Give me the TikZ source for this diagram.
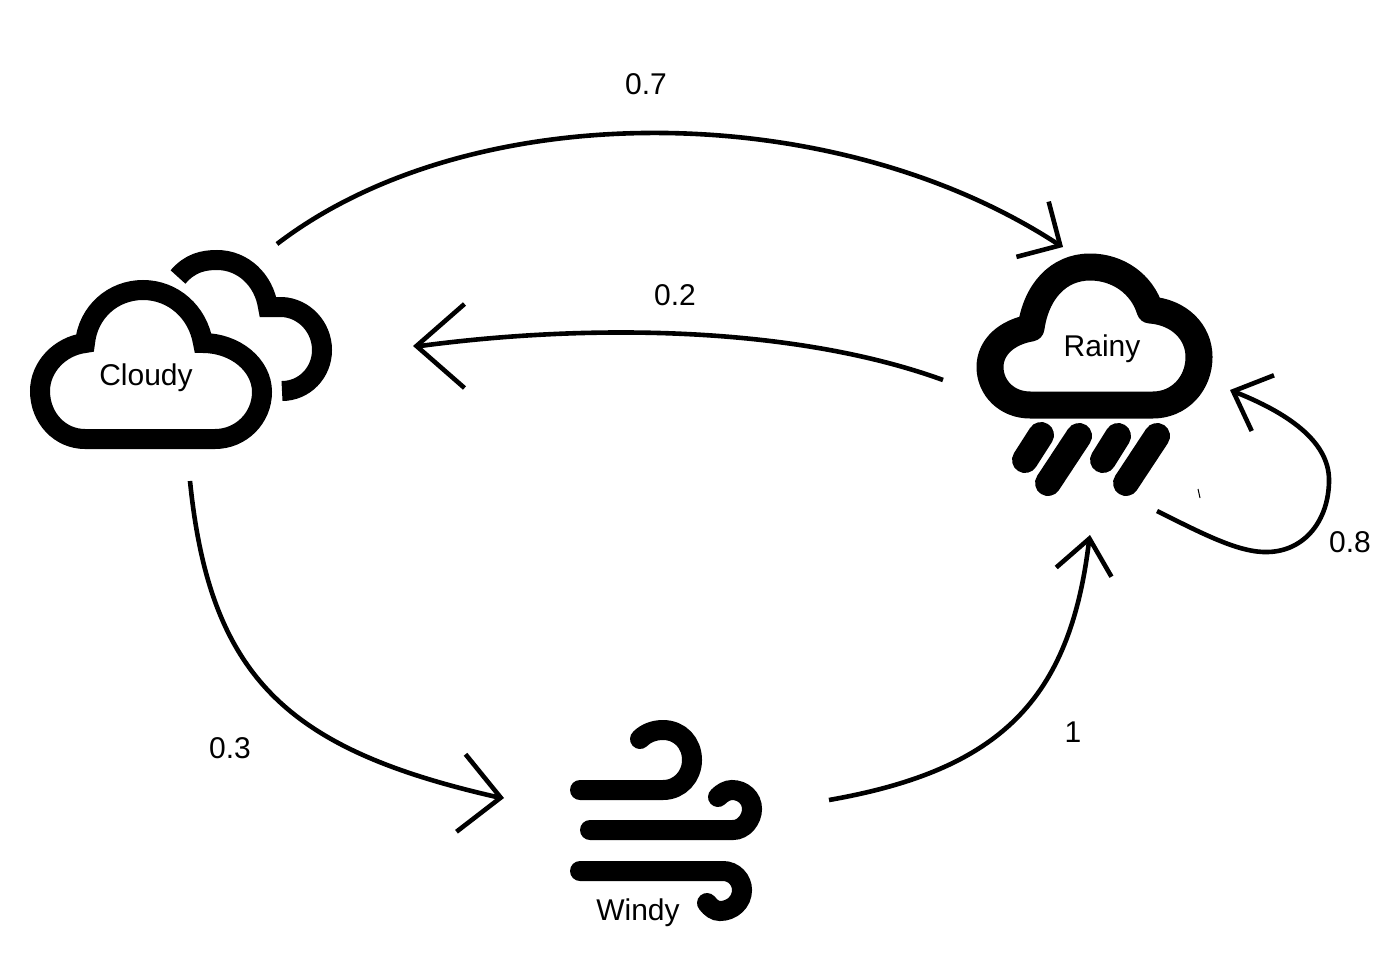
\documentclass[tikz,border=0pt]{standalone}
\usepackage{fontspec}
\setmainfont{Liberation Sans}
\usetikzlibrary{arrows.meta}
\tikzset{
  label text/.style={font=\fontsize{15}{18}\selectfont, text=black, inner sep=0pt},
  icon/.style={draw=black, line width=10pt, line join=miter, miter limit=10},
  rainicon/.style={draw=black, line width=13.5pt, line join=round},
  drop/.style={draw=black, line width=13pt, line cap=round},
  gust/.style={draw=black, line width=10pt, line cap=round},
  link/.style={draw=black, line width=2.3pt}
}
\begin{document}
\begin{tikzpicture}[x=0.5pt,y=-0.5pt]
\useasboundingbox (0,0) rectangle (1400,957);
\fill[white] (0,0) rectangle (1400,957);
% Cloudy icon
\path[icon] (85,439) -- (215,439) .. controls (241,439) and (262,418) .. (262,392)
  .. controls (262,365) and (235,343) .. (203,343)
  .. controls (198,312) and (173,290) .. (143,290)
  .. controls (113,290) and (88,312) .. (85,343)
  .. controls (60,346) and (40,367) .. (40,391)
  .. controls (40,418) and (60,439) .. (85,439) -- cycle;
\path[icon] (178,277) .. controls (190,263) and (203,260) .. (217,260)
  .. controls (243,260) and (264,280) .. (268,307) -- (282,307)
  .. controls (304,308) and (322,327) .. (322,350)
  .. controls (322,373) and (304,391) .. (282,391);
% Rainy icon
\path[rainicon] (1030,405) -- (1153,405) .. controls (1179,405) and (1199,384) .. (1199,357)
  .. controls (1199,332) and (1179,312) .. (1150,310)
  .. controls (1142,284) and (1118,267) .. (1090,267)
  .. controls (1058,267) and (1036,292) .. (1031,328)
  .. controls (1007,332) and (990,347) .. (990,367)
  .. controls (990,388) and (1007,405) .. (1030,405) -- cycle;
\path[drop] (1041,435) -- (1025,460);
\path[drop] (1079,436) -- (1048,483);
\path[drop] (1118,436) -- (1103,460);
\path[drop] (1157,436) -- (1126,483);
% Windy icon
\path[gust] (580,790) -- (663,790) .. controls (680,790) and (692,776) .. (692,760)
  .. controls (692,743) and (680,730) .. (663,730) .. controls (654,730) and (646,733) .. (640,739);
\path[gust] (590,830) -- (733,830) .. controls (744,830) and (752,819) .. (752,809)
  .. controls (752,798) and (743,790) .. (732,790) .. controls (727,790) and (722,793) .. (718,797);
\path[gust] (580,871) -- (723,871) .. controls (734,871) and (742,880) .. (742,890)
  .. controls (742,902) and (732,911) .. (720,911) .. controls (715,911) and (711,908) .. (707,903);
% Labels
\node[label text] (cloudy) at (146,378) {Cloudy};
\node[label text] (rainy) at (1102,349) {Rainy};
\node[label text] (windy) at (638,913) {Windy};
\node[label text] (p07) at (646,84) {0.7};
\node[label text] (p02) at (675,295) {0.2};
\node[label text] (p03) at (230,748) {0.3};
\node[label text] (p1) at (1073,732) {1};
\node[label text] (p08) at (1350,542) {0.8};
% Connector ends
\coordinate (cloudyTop) at (277,244);
\coordinate (rainyTop) at (1063,247);
\coordinate (rainyLeft) at (943,380);
\coordinate (cloudyRight) at (413,346);
\coordinate (cloudyBottom) at (190,481);
\coordinate (windyLeft) at (504,798);
\coordinate (windyRight) at (829,800);
\coordinate (rainyBottom) at (1090,535);
\coordinate (rainyLoopOut) at (1157,511);
\coordinate (rainyLoopIn) at (1230,390);
% Connectors
\draw[link, -{Straight Barb[length=16pt,width=32pt]}] (cloudyTop) .. controls (470,96) and (830,96) .. (1057,243.5) -- (rainyTop);
\draw[link, -{Straight Barb[length=24pt,width=42pt]}] (rainyLeft) .. controls (800,328) and (600,322) .. (420,346) -- (cloudyRight);
\draw[link, -{Straight Barb[length=20pt,width=39pt]}] (cloudyBottom) .. controls (210,680) and (290,750) .. (498,797.3) -- (windyLeft);
\draw[link, -{Straight Barb[length=17pt,width=28pt]}] (windyRight) .. controls (1000,770) and (1070,700) .. (1089,541) -- (rainyBottom);
\draw[link, -{Straight Barb[length=16pt,width=30pt]}] (rainyLoopOut) .. controls (1205,535) and (1240,553) .. (1268,552)
  .. controls (1305,551) and (1329,520) .. (1329,480) .. controls (1329,440) and (1285,412) .. (1236,392.4) -- (rainyLoopIn);
% Small stray tick
\draw[black, line width=0.5pt] (1198,489) -- (1200,498);
\end{tikzpicture}
\end{document}
